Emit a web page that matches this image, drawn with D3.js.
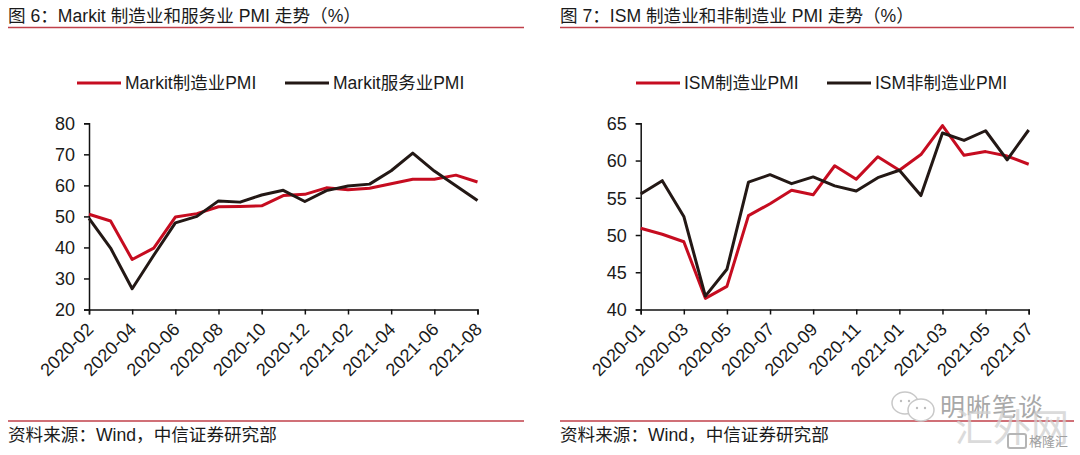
<!DOCTYPE html>
<html>
<head>
<meta charset="utf-8">
<script src="https://cdn.jsdelivr.net/npm/d3@7"></script>
<style>
  html, body { margin: 0; padding: 0; background: #fff; }
  svg { display: block; }
  text { font-family: "Liberation Sans", "Noto Sans CJK SC", sans-serif; fill: #1a1a1a; }
</style>
</head>
<body>
<svg id="chart" width="1080" height="455"></svg>
<script>
// left panel data
const markitMonths = ["2020-02","2020-03","2020-04","2020-05","2020-06","2020-07","2020-08","2020-09","2020-10","2020-11","2020-12","2021-01","2021-02","2021-03","2021-04","2021-05","2021-06","2021-07","2021-08"];
const markitMfg = [50.7,48.5,36.1,39.8,49.8,50.9,53.1,53.2,53.4,56.7,57.1,59.2,58.6,59.1,60.5,62.0,62.0,63.3,61.1];
const markitSvc = [49.4,39.8,26.7,37.5,47.9,50.0,55.0,54.6,56.9,58.4,54.8,58.3,59.8,60.4,64.7,70.4,64.6,59.9,55.1];
const markitYTicks = [20,30,40,50,60,70,80];

// right panel data
const ismMonths = ["2020-01","2020-02","2020-03","2020-04","2020-05","2020-06","2020-07","2020-08","2020-09","2020-10","2020-11","2020-12","2021-01","2021-02","2021-03","2021-04","2021-05","2021-06","2021-07"];
const ismMfg = [50.9,50.1,49.1,41.5,43.1,52.6,54.2,56.0,55.4,59.3,57.5,60.5,58.7,60.8,64.7,60.7,61.2,60.6,59.5];
const ismNonMfg = [55.5,57.3,52.5,41.8,45.4,57.1,58.1,56.9,57.8,56.6,55.9,57.7,58.7,55.3,63.7,62.7,64.0,60.1,64.1];
const ismYTicks = [40,45,50,55,60,65];

const RED = "#c60c20";
const BLACK = "#231815";
const RULE = "#c0404a";

const svg = d3.select("#chart");

function drawPanel(cfg) {
    const g = svg.append("g");

    // title and rules
    g.append("text").attr("x", cfg.left).attr("y", 22)
        .attr("font-size", 17.6).text(cfg.title);
    g.append("line").attr("x1", cfg.left).attr("x2", cfg.right)
        .attr("y1", 27.5).attr("y2", 27.5).attr("stroke", RULE).attr("stroke-width", 1.5);
    g.append("line").attr("x1", cfg.left).attr("x2", cfg.right)
        .attr("y1", 421).attr("y2", 421).attr("stroke", RULE).attr("stroke-width", 1.5);
    g.append("text").attr("x", cfg.left).attr("y", 441)
        .attr("font-size", 17.6).text("资料来源：Wind，中信证券研究部");

    // scales
    const x = d3.scalePoint().domain(cfg.months).range(cfg.xRange);
    const y = d3.scaleLinear().domain(cfg.yDomain).range([309.5, 123.3]);

    const xAxis = d3.axisBottom(x)
        .tickValues(cfg.months.filter((d, i) => i % 2 === 0))
        .tickSizeOuter(0).tickSize(5);
    const yAxis = d3.axisLeft(y).tickValues(cfg.yTicks).tickSizeOuter(0).tickSize(5);

    const yG = g.append("g").attr("transform", `translate(${cfg.xRange[0]},0)`).call(yAxis);
    yG.selectAll("text").attr("font-size", 18).attr("x", -14).attr("dy", "0.35em");

    const xG = g.append("g").attr("transform", "translate(0,309.5)").call(xAxis);
    xG.selectAll("text")
        .attr("font-size", 18)
        .attr("text-anchor", "end")
        .attr("dy", 0).attr("x", 0).attr("y", 0)
        .attr("transform", "translate(5,21) rotate(-45)");

    g.selectAll(".domain, .tick line").attr("stroke", "#111").attr("stroke-width", 1.5);

    // lines
    const line = d3.line().x((d, i) => x(cfg.months[i])).y(d => y(d));
    cfg.series.forEach(s => {
        g.append("path").datum(s.values)
            .attr("fill", "none").attr("stroke", s.color)
            .attr("stroke-width", 3).attr("stroke-linejoin", "round")
            .attr("d", line);
    });

    // legend
    cfg.series.forEach(s => {
        g.append("line").attr("x1", s.legendX).attr("x2", s.legendX + 44)
            .attr("y1", 83).attr("y2", 83).attr("stroke", s.color).attr("stroke-width", 3);
        g.append("text").attr("x", s.legendX + 48).attr("y", 89)
            .attr("font-size", 17.5).text(s.name);
    });
}

drawPanel({
    title: "图 6：Markit 制造业和服务业 PMI 走势（%）",
    left: 8, right: 524,
    months: markitMonths, xRange: [89, 477.5],
    yDomain: [20, 80], yTicks: markitYTicks,
    series: [
        { name: "Markit制造业PMI", values: markitMfg, color: RED, legendX: 77 },
        { name: "Markit服务业PMI", values: markitSvc, color: BLACK, legendX: 285 }
    ]
});

drawPanel({
    title: "图 7：ISM 制造业和非制造业 PMI 走势（%）",
    left: 560, right: 1074,
    months: ismMonths, xRange: [640.7, 1028.7],
    yDomain: [40, 65], yTicks: ismYTicks,
    series: [
        { name: "ISM制造业PMI", values: ismMfg, color: RED, legendX: 636 },
        { name: "ISM非制造业PMI", values: ismNonMfg, color: BLACK, legendX: 827 }
    ]
});

// watermark
const wm = svg.append("g").attr("pointer-events", "none");
wm.append("text").attr("x", 940).attr("y", 416).attr("font-size", 25)
    .attr("letter-spacing", 1).style("fill", "#a8a8a8").text("明晰笔谈");
wm.append("text").attr("x", 955).attr("y", 441).attr("font-size", 38)
    .style("fill", "#cfcfcf").attr("opacity", 0.75).text("汇外网");
wm.append("text").attr("x", 1029).attr("y", 446).attr("font-size", 13)
    .style("fill", "#a0a0a0").text("格隆汇");
[[905, 403, 11], [921, 410, 11]].forEach(c => {
    wm.append("ellipse").attr("cx", c[0]).attr("cy", c[1]).attr("rx", c[2] + 2).attr("ry", c[2])
        .attr("fill", "#fff").attr("stroke", "#c8c8c8").attr("stroke-width", 1.5);
    wm.selectAll(null).data([-4, 4]).join("circle")
        .attr("cx", d => c[0] + d).attr("cy", c[1] - 2).attr("r", 1.2).attr("fill", "#bdbdbd");
});
wm.append("rect").attr("x", 1008).attr("y", 434).attr("width", 18).attr("height", 14).attr("rx", 2)
    .attr("fill", "none").attr("stroke", "#b5b5b5").attr("stroke-width", 2);
</script>
</body>
</html>
